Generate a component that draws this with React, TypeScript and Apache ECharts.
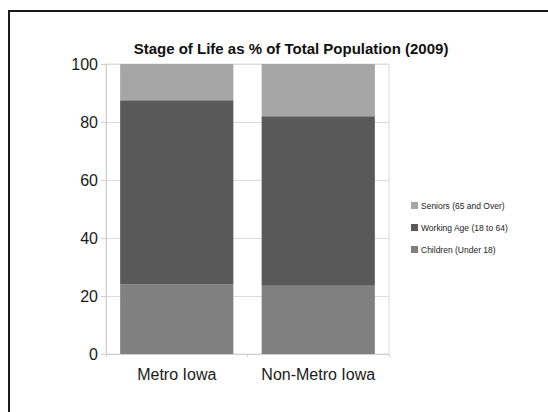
import React, { useEffect, useRef } from "react";
import * as echarts from "echarts";

const categories = ["Metro Iowa", "Non-Metro Iowa"];
const children = [24, 23.5];
const workingAge = [63.5, 58.5];
const seniors = [12.5, 18];
const yTicks = [0, 20, 40, 60, 80, 100];

export default function App() {
  const ref = useRef<HTMLDivElement>(null);
  useEffect(() => {
    document.body.style.margin = "0";
    const chart = echarts.init(ref.current!, null, { renderer: "svg" });
    const font = "Liberation Sans, Arial, sans-serif";
    chart.setOption({
      animation: false,
      backgroundColor: "#ffffff",
      title: {
        text: "Stage of Life as % of Total Population (2009)",
        left: 286,
        textAlign: "center",
        top: 36,
        textStyle: { fontFamily: font, fontSize: 15, fontWeight: "bold", color: "#111" },
      },
      graphic: [
        {
          type: "rect",
          shape: { x: 9, y: 11, width: 700, height: 600 },
          style: { fill: "none", stroke: "#1a1a1a", lineWidth: 2 },
          silent: true,
        },
      ],
      legend: {
        data: ["Seniors (65 and Over)", "Working Age (18 to 64)", "Children (Under 18)"],
        orient: "vertical",
        left: 406,
        top: 196,
        itemWidth: 7,
        itemHeight: 7,
        itemGap: 13,
        icon: "rect",
        textStyle: { fontFamily: font, fontSize: 8.5, color: "#222", padding: [0, 0, 0, -2] },
      },
      grid: {
        left: 106,
        top: 64,
        width: 283,
        height: 290,
        show: true,
        borderColor: "#dcdcdc",
        borderWidth: 1,
      },
      xAxis: {
        type: "category",
        data: categories,
        axisLine: { lineStyle: { color: "#d0d0d0" } },
        axisTick: { show: true, length: 3, lineStyle: { color: "#d0d0d0" } },
        axisLabel: { interval: 0, fontFamily: font, fontSize: 16, color: "#1a1a1a", margin: 12 },
      },
      yAxis: {
        type: "value",
        min: yTicks[0],
        max: yTicks[yTicks.length - 1],
        interval: 20,
        axisLine: { show: true, lineStyle: { color: "#d0d0d0" } },
        axisTick: { show: true, length: 5, lineStyle: { color: "#d0d0d0" } },
        splitLine: { lineStyle: { color: "#dcdcdc" } },
        axisLabel: { fontFamily: font, fontSize: 16, color: "#1a1a1a", margin: 8 },
      },
      series: [
        {
          name: "Children (Under 18)",
          type: "bar",
          stack: "total",
          data: children,
          barWidth: "80%",
          itemStyle: { color: "#808080" },
        },
        {
          name: "Working Age (18 to 64)",
          type: "bar",
          stack: "total",
          data: workingAge,
          itemStyle: { color: "#595959" },
        },
        {
          name: "Seniors (65 and Over)",
          type: "bar",
          stack: "total",
          data: seniors,
          itemStyle: { color: "#a6a6a6" },
        },
      ],
    });
    return () => chart.dispose();
  }, []);
  return <div ref={ref} style={{ width: 548, height: 412 }} />;
}
